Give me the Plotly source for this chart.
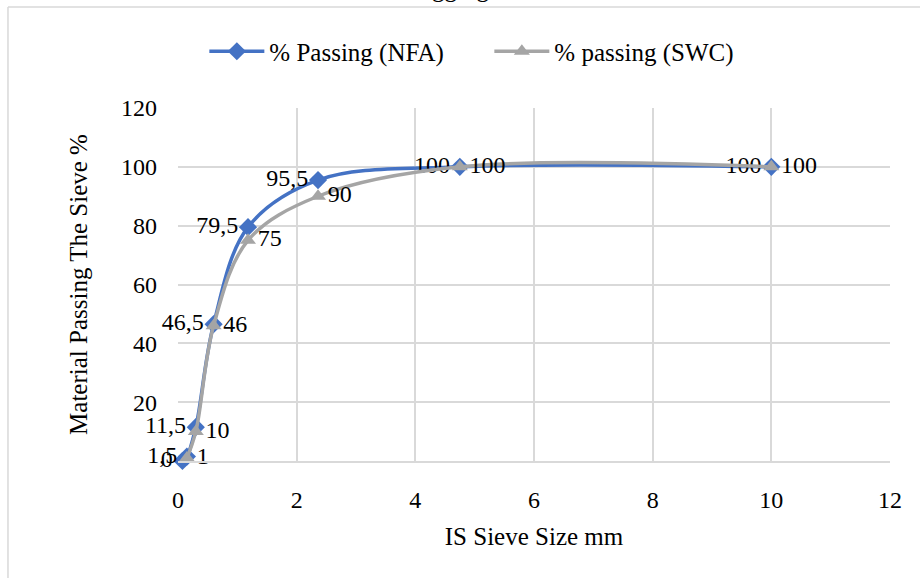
import plotly.graph_objects as go

# Data
sieve_nfa = [0.075, 0.15, 0.3, 0.6, 1.18, 2.36, 4.75, 10]
passing_nfa = [0, 1.5, 11.5, 46.5, 79.5, 95.5, 100, 100]
sieve_swc = [0.15, 0.3, 0.6, 1.18, 2.36, 4.75, 10]
passing_swc = [1, 10, 46, 75, 90, 100, 100]
x_ticks = [0, 2, 4, 6, 8, 10, 12]
y_ticks = [0, 20, 40, 60, 80, 100, 120]
y_tick_labels = ["", "20", "40", "60", "80", "100", "120"]


def fmt(v):
    return f"{v:g}".replace(".", ",")


FONT = "Liberation Serif, serif"
BLUE = "#4472C4"
GRAY = "#A5A5A5"
FS = 24
FS_BIG = 25

fig = go.Figure()
fig.add_trace(go.Scatter(
    x=sieve_nfa, y=passing_nfa, name="% Passing (NFA)",
    mode="lines+markers+text", cliponaxis=False,
    line=dict(color=BLUE, width=3.5, shape="spline", smoothing=1.0),
    marker=dict(symbol="diamond", size=14, color=BLUE),
    text=[fmt(v) for v in passing_nfa], textposition="middle left",
    textfont=dict(family=FONT, size=FS, color="#000000"),
))
fig.add_trace(go.Scatter(
    x=sieve_swc, y=passing_swc, name="% passing (SWC)",
    mode="lines+markers+text", cliponaxis=False,
    line=dict(color=GRAY, width=3.5, shape="spline", smoothing=1.0),
    marker=dict(symbol="triangle-up", size=14, color=GRAY),
    text=[fmt(v) for v in passing_swc], textposition="middle right",
    textfont=dict(family=FONT, size=FS, color="#000000"),
))

fig.update_layout(
    width=920, height=578,
    margin=dict(l=178, r=30, t=108, b=117),
    paper_bgcolor="white", plot_bgcolor="white",
    font=dict(family=FONT, size=FS, color="#000000"),
    showlegend=True,
    legend=dict(orientation="h", x=0.037, xanchor="left", y=1.16, yanchor="middle",
                font=dict(family=FONT, size=FS_BIG), itemwidth=55,
                entrywidth=215, entrywidthmode="pixels",
                bgcolor="rgba(0,0,0,0)"),
)
fig.update_xaxes(
    range=[0, 12], tickvals=x_ticks, ticktext=[str(t) for t in x_ticks],
    showgrid=True, gridcolor="#D9D9D9", gridwidth=1.5,
    zeroline=False, showline=True, linecolor="#D9D9D9", linewidth=1.5,
    mirror=False, ticks="", ticklabelstandoff=16,
    title=dict(text="IS Sieve Size mm", font=dict(family=FONT, size=FS_BIG), standoff=16),
)
fig.update_yaxes(
    range=[0, 120], tickvals=y_ticks, ticktext=y_tick_labels,
    showgrid=True, gridcolor="#D9D9D9", gridwidth=1.5,
    zeroline=False, showline=False, ticks="", ticklabelstandoff=20,
    title=dict(text="Material Passing The Sieve %", font=dict(family=FONT, size=FS_BIG), standoff=26),
)

# Outer chart frame (top and left edges visible in the crop)
fig.add_shape(type="line", xref="paper", yref="paper", x0=-0.2388, x1=1.1, y0=1.286, y1=1.286,
              line=dict(color="#D9D9D9", width=1.5))
fig.add_shape(type="line", xref="paper", yref="paper", x0=-0.2388, x1=-0.2388, y0=1.286, y1=-0.4,
              line=dict(color="#D9D9D9", width=1.5))
# Cut-off chart title
fig.add_annotation(text="Aggregate", xref="paper", yref="paper", x=0.405, y=1.338,
                   xanchor="center", yanchor="middle", showarrow=False,
                   font=dict(family=FONT, size=FS_BIG))

fig.write_html("out.html", config={"displayModeBar": False},
               post_script="document.body.style.margin='0px';")
